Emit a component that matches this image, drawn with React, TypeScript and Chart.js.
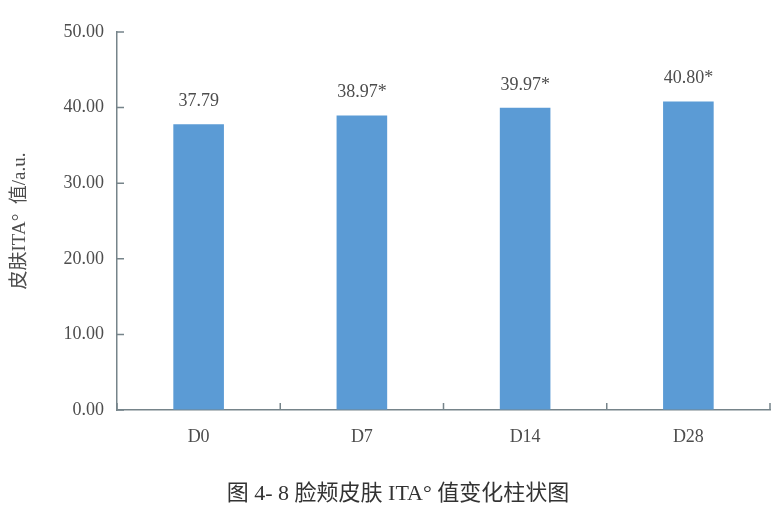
import React, { useEffect, useRef } from "react";
import { Chart, registerables } from "chart.js";

Chart.register(...registerables);

// data
const categories = ["D0", "D7", "D14", "D28"];
const itaValues = [37.79, 38.97, 39.97, 40.8];
const valueLabels = ["37.79", "38.97*", "39.97*", "40.80*"];
const yTicks = { min: 0, max: 50, step: 10 };

const axisColor = "#76848a";
const textColor = "#4d4d4d";
const barColor = "#5b9bd5";
const serif = '"Liberation Serif", "Noto Sans CJK SC", serif';

// ticks on this figure point into the plot, so draw them ourselves
const innerTicks = {
  id: "innerTicks",
  afterDraw(chart: any) {
    const { ctx, chartArea } = chart;
    const x = chart.scales.x;
    const y = chart.scales.y;
    ctx.save();
    ctx.strokeStyle = axisColor;
    ctx.lineWidth = 1.5;
    ctx.beginPath();
    y.ticks.forEach((t: any) => {
      const py = y.getPixelForValue(t.value);
      ctx.moveTo(chartArea.left, py);
      ctx.lineTo(chartArea.left + 7, py);
    });
    for (let i = 0; i <= categories.length; i++) {
      const px = x.getPixelForValue(i - 0.5);
      ctx.moveTo(px, chartArea.bottom);
      ctx.lineTo(px, chartArea.bottom - 7);
    }
    ctx.stroke();
    ctx.restore();
  },
};

const barLabels = {
  id: "barLabels",
  afterDatasetsDraw(chart: any) {
    const { ctx } = chart;
    const meta = chart.getDatasetMeta(0);
    ctx.save();
    ctx.font = `18px ${serif}`;
    ctx.fillStyle = textColor;
    ctx.textAlign = "center";
    ctx.textBaseline = "middle";
    meta.data.forEach((bar: any, i: number) => {
      ctx.fillText(valueLabels[i], bar.x, bar.y - 23);
    });
    ctx.restore();
  },
};

export default function App() {
  const canvasRef = useRef<HTMLCanvasElement | null>(null);
  const chartRef = useRef<Chart | null>(null);

  useEffect(() => {
    if (!canvasRef.current) return;
    chartRef.current = new Chart(canvasRef.current, {
      type: "bar",
      data: {
        labels: categories,
        datasets: [
          {
            data: itaValues,
            backgroundColor: barColor,
            barPercentage: 0.31,
            categoryPercentage: 1,
          },
        ],
      },
      options: {
        responsive: false,
        animation: false,
        layout: { padding: { top: 32, right: 8, left: 0, bottom: 0 } },
        plugins: {
          legend: { display: false },
          tooltip: { enabled: false },
        },
        scales: {
          x: {
            offset: true,
            grid: { display: true, drawOnChartArea: false, drawTicks: false },
            border: { display: true, color: axisColor, width: 1.5 },
            ticks: {
              padding: 16,
              color: textColor,
              font: { family: serif, size: 18 },
            },
            afterFit: (s: any) => {
              s.height = 106;
            },
          },
          y: {
            min: yTicks.min,
            max: yTicks.max,
            grid: { display: true, drawOnChartArea: false, drawTicks: false },
            border: { display: true, color: axisColor, width: 1.5 },
            ticks: {
              stepSize: yTicks.step,
              padding: 13,
              color: textColor,
              font: { family: serif, size: 18 },
              callback: (v: any) => Number(v).toFixed(2),
            },
            title: {
              display: true,
              text: "皮肤ITA°  值/a.u.",
              color: textColor,
              font: { family: serif, size: 19 },
              padding: { top: 9, bottom: 0 },
            },
            afterFit: (s: any) => {
              s.width = 117;
            },
          },
        },
      },
      plugins: [innerTicks, barLabels],
    });

    return () => {
      if (chartRef.current) {
        chartRef.current.destroy();
        chartRef.current = null;
      }
    };
  }, []);

  return (
    <div style={{ position: "fixed", left: 0, top: 0, width: 778, height: 516, background: "#fff" }}>
      <canvas ref={canvasRef} width={778} height={516} />
      <div
        style={{
          position: "absolute",
          left: 0,
          width: 796,
          top: 479,
          textAlign: "center",
          fontFamily: serif,
          fontSize: 22,
          lineHeight: "28px",
          color: "#333333",
          whiteSpace: "pre",
        }}
      >
        {"图 4- 8 脸颊皮肤 ITA° 值变化柱状图"}
      </div>
    </div>
  );
}
